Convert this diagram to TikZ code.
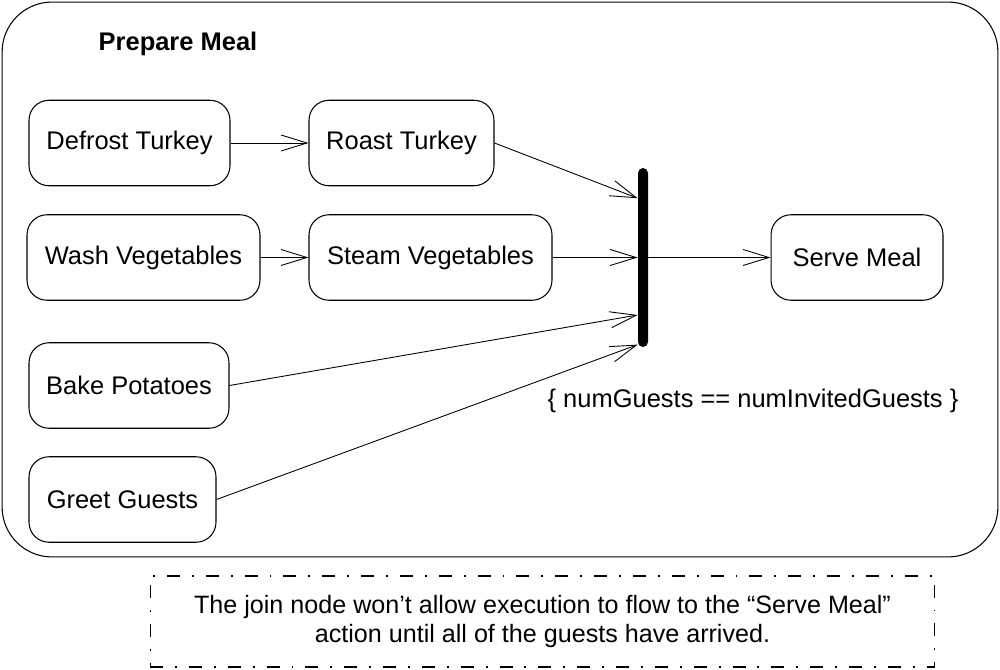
\documentclass[tikz,border=0pt]{standalone}
\usepackage{fontspec}
\setmainfont{Liberation Sans}
\usetikzlibrary{arrows.meta,positioning}

\begin{document}
\begin{tikzpicture}[
  x=0.02cm, y=-0.02cm,
  node distance=0.58cm and 1.56cm,
  action/.style={draw,line width=0.6pt,rounded corners=0.4cm,minimum height=1.71cm,inner sep=0pt,font=\fontsize{14.5}{17}\selectfont},
  joinbar/.style={fill=black,rounded corners=0.1cm,minimum width=0.2cm,minimum height=3.58cm,inner sep=0pt},
  note/.style={draw,line width=0.6pt,dash pattern=on 7.4pt off 6.8pt on 1.1pt off 6.8pt,minimum width=15.7cm,minimum height=1.82cm,align=center,font=\fontsize{14.3}{16.4}\selectfont},
  flow/.style={-{Straight Barb[length=5.2mm,width=3.2mm]},line width=0.5pt}
]
  \useasboundingbox (0,0) rectangle (1000,669);
  % activity frame
  \node[draw,line width=0.6pt,rounded corners=1cm,minimum width=19.92cm,minimum height=11.1cm] (activity) at (500,279.5) {};
  \node[font=\fontsize{14.5}{17}\selectfont\bfseries] (title) at (178,44) {Prepare Meal};

  % actions
  \node[action,minimum width=4.02cm] (defrost) at (129.5,143) {Defrost Turkey};
  \node[action,minimum width=3.7cm,right=of defrost] (roast) {Roast Turkey};
  \node[action,minimum width=4.66cm] (wash) at (143.5,257.5) {Wash Vegetables};
  \node[action,minimum width=4.86cm,right=0.96cm of wash] (steam) {Steam Vegetables};
  \node[action,minimum width=4cm] (bake) at (129,385.5) {Bake Potatoes};
  \node[action,minimum width=3.74cm] (greet) at (122.5,499.5) {Greet Guests};

  % join and guard
  \node[joinbar] (join) at (643,257.5) {};
  \node[action,minimum width=3.44cm] (serve) at (857,257.5) {Serve Meal};
  \node[font=\fontsize{14.5}{17}\selectfont] (guard) at (753,401) {\{ numGuests == numInvitedGuests \}};
  \path (join.north west) -- (join.south west)
    coordinate[pos=0.17] (jin1)
    coordinate[pos=0.5] (jin2)
    coordinate[pos=0.82] (jin3)
    coordinate[pos=0.985] (jin4);

  \draw[flow] (defrost) -- (roast);
  \draw[flow] (wash) -- (steam);
  \draw[flow] (roast.east) -- (jin1);
  \draw[flow] (steam.east) -- (jin2);
  \draw[flow] (bake.east) -- (jin3);
  \draw[flow] (greet.east) -- (jin4);
  \draw[flow] (join) -- (serve);

  % comment
  \node[note] (remark) at (542.5,621.5) {The join node won’t allow execution to flow to the “Serve Meal”\\action until all of the guests have arrived.};
\end{tikzpicture}
\end{document}
